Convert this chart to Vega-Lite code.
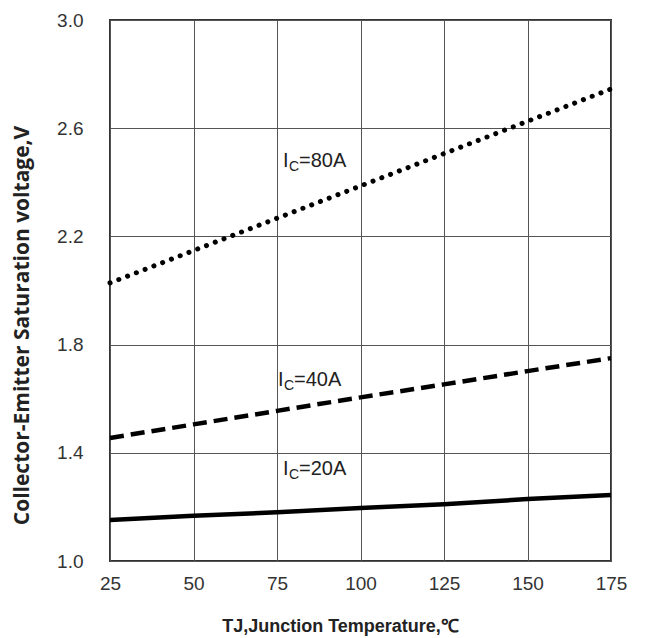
{
  "$schema": "https://vega.github.io/schema/vega-lite/v6.json",
  "width": 501,
  "height": 541,
  "autosize": "none",
  "padding": {"left": 110, "top": 20, "right": 35, "bottom": 77},
  "background": "white",
  "config": {
    "view": {"stroke": "#333", "strokeWidth": 2},
    "font": "Liberation Sans"
  },
  "datasets": {
    "curves": [
      {"t": 25, "v": 1.152, "ic": "20A"},
      {"t": 50, "v": 1.167, "ic": "20A"},
      {"t": 75, "v": 1.18, "ic": "20A"},
      {"t": 100, "v": 1.196, "ic": "20A"},
      {"t": 125, "v": 1.21, "ic": "20A"},
      {"t": 150, "v": 1.229, "ic": "20A"},
      {"t": 175, "v": 1.244, "ic": "20A"},
      {"t": 25, "v": 1.455, "ic": "40A"},
      {"t": 50, "v": 1.505, "ic": "40A"},
      {"t": 75, "v": 1.555, "ic": "40A"},
      {"t": 100, "v": 1.605, "ic": "40A"},
      {"t": 125, "v": 1.653, "ic": "40A"},
      {"t": 150, "v": 1.702, "ic": "40A"},
      {"t": 175, "v": 1.75, "ic": "40A"},
      {"t": 25, "v": 2.028, "ic": "80A"},
      {"t": 175, "v": 2.745, "ic": "80A"}
    ],
    "labels": [
      {"t": 76.8, "v": 2.457, "sub": "C", "rest": "=80A"},
      {"t": 75.3, "v": 1.647, "sub": "C", "rest": "=40A"},
      {"t": 76.8, "v": 1.318, "sub": "C", "rest": "=20A"}
    ]
  },
  "layer": [
    {
      "data": {"name": "curves"},
      "transform": [{"filter": "datum.ic === '20A'"}],
      "mark": {"type": "line", "color": "black", "strokeWidth": 4.5},
      "encoding": {
        "x": {
          "field": "t", "type": "quantitative",
          "scale": {"domain": [25, 175], "nice": false, "zero": false},
          "axis": {
            "values": [25, 50, 75, 100, 125, 150, 175],
            "grid": true, "gridColor": "#555", "gridWidth": 1, "gridOpacity": 1,
            "domain": false, "ticks": false, "tickSize": 0,
            "labelFont": "Liberation Sans", "labelFontSize": 19, "labelColor": "#333",
            "labelPadding": 13, "labelFlush": false, "labelBound": false, "labelOverlap": false,
            "title": "TJ,Junction Temperature,℃",
            "titleFont": "Liberation Sans", "titleFontSize": 18, "titleFontWeight": "bold",
            "titleColor": "#222", "titleBaseline": "middle", "titleAlign": "center",
            "titleX": 230, "titleY": 65
          }
        },
        "y": {
          "field": "v", "type": "quantitative",
          "scale": {"domain": [1.0, 3.0], "nice": false, "zero": false},
          "axis": {
            "values": [1.0, 1.4, 1.8, 2.2, 2.6, 3.0],
            "format": ".1f",
            "grid": true, "gridColor": "#555", "gridWidth": 1, "gridOpacity": 1,
            "domain": false, "ticks": false, "tickSize": 0,
            "labelFont": "Liberation Sans", "labelFontSize": 19, "labelColor": "#333",
            "labelPadding": 27, "labelFlush": false, "labelBound": false, "labelOverlap": false,
            "title": "Collector-Emitter Saturation voltage,V",
            "titleFont": "Open Sans", "titleFontSize": 21, "titleFontWeight": "bold",
            "titleColor": "#222", "titleBaseline": "middle", "titleAlign": "center",
            "titleX": -88, "titleY": 305
          }
        }
      }
    },
    {
      "data": {"name": "curves"},
      "transform": [{"filter": "datum.ic === '40A'"}],
      "mark": {"type": "line", "color": "black", "strokeWidth": 4.5, "strokeDash": [14, 7]},
      "encoding": {
        "x": {"field": "t", "type": "quantitative"},
        "y": {"field": "v", "type": "quantitative"}
      }
    },
    {
      "data": {"name": "curves"},
      "transform": [{"filter": "datum.ic === '80A'"}],
      "mark": {"type": "line", "color": "black", "strokeWidth": 5, "strokeDash": [0.1, 9.3], "strokeCap": "round"},
      "encoding": {
        "x": {"field": "t", "type": "quantitative"},
        "y": {"field": "v", "type": "quantitative"}
      }
    },
    {
      "data": {"name": "labels"},
      "mark": {"type": "text", "text": "I", "align": "left", "baseline": "alphabetic", "fontSize": 20, "color": "#222", "font": "Liberation Sans"},
      "encoding": {
        "x": {"field": "t", "type": "quantitative"},
        "y": {"field": "v", "type": "quantitative"}
      }
    },
    {
      "data": {"name": "labels"},
      "mark": {"type": "text", "align": "left", "baseline": "alphabetic", "fontSize": 14, "dx": 6, "dy": 4, "color": "#222", "font": "Liberation Sans"},
      "encoding": {
        "x": {"field": "t", "type": "quantitative"},
        "y": {"field": "v", "type": "quantitative"},
        "text": {"field": "sub"}
      }
    },
    {
      "data": {"name": "labels"},
      "mark": {"type": "text", "align": "left", "baseline": "alphabetic", "fontSize": 20, "dx": 16, "color": "#222", "font": "Liberation Sans"},
      "encoding": {
        "x": {"field": "t", "type": "quantitative"},
        "y": {"field": "v", "type": "quantitative"},
        "text": {"field": "rest"}
      }
    }
  ]
}
